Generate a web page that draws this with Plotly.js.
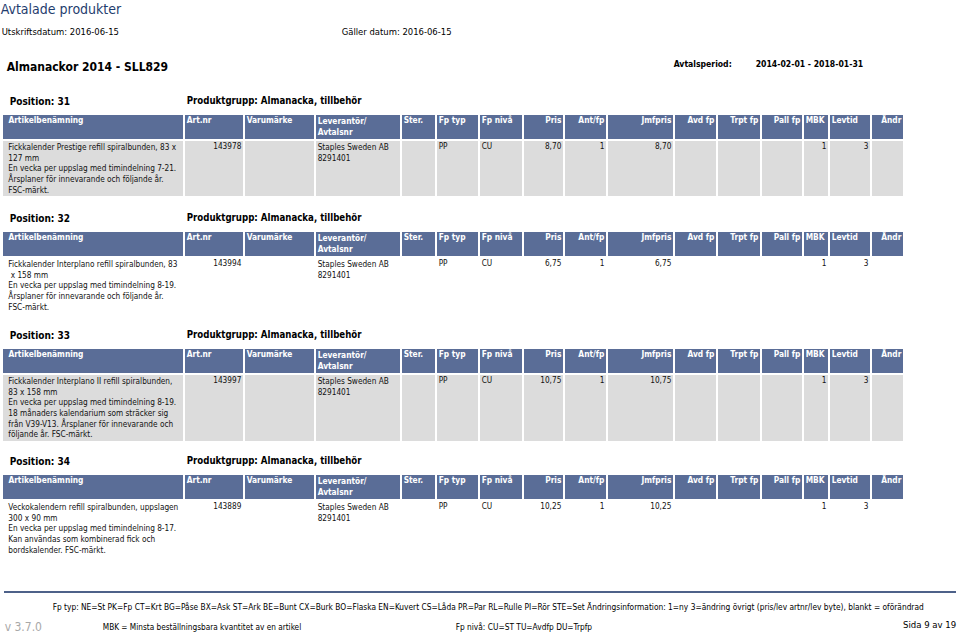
<!DOCTYPE html>
<html>
<head>
<meta charset="utf-8">
<script src="https://cdn.plot.ly/plotly-3.0.1.min.js"></script>
<style>
  html, body { margin: 0; padding: 0; background: #ffffff; overflow: hidden; }
  #frame { width: 960px; height: 633px; overflow: hidden; position: relative; }
  #page { position: absolute; left: 0; top: 0; }
</style>
</head>
<body>
<div id="frame"><div id="page"></div></div>
<script>
const positions = ["31", "32", "33", "34"];
const productGroups = ["Almanacka, tillbehör", "Almanacka, tillbehör", "Almanacka, tillbehör", "Almanacka, tillbehör"];
const descriptions = [
  "Fickkalender Prestige refill spiralbunden, 83 x<br>127 mm<br>En vecka per uppslag med timindelning 7-21.<br>Årsplaner för innevarande och följande år.<br>FSC-märkt.",
  "Fickkalender Interplano refill spiralbunden, 83<br> x 158 mm<br>En vecka per uppslag med timindelning 8-19.<br>Årsplaner för innevarande och följande år.<br>FSC-märkt.",
  "Fickkalender Interplano II refill spiralbunden,<br>83 x 158 mm<br>En vecka per uppslag med timindelning 8-19.<br>18 månaders kalendarium som sträcker sig<br>från V39-V13. Årsplaner för innevarande och<br>följande år. FSC-märkt.",
  "Veckokalendern refill spiralbunden, uppslagen<br>300 x 90 mm<br>En vecka per uppslag med timindelning 8-17.<br>Kan användas som kombinerad fick och<br>bordskalender. FSC-märkt.",
];
const artNr = ["143978", "143994", "143997", "143889"];
const brands = ["", "", "", ""];
const suppliers = ["Staples Sweden AB", "Staples Sweden AB", "Staples Sweden AB", "Staples Sweden AB"];
const contractNr = ["8291401", "8291401", "8291401", "8291401"];
const fpTyp = ["PP", "PP", "PP", "PP"];
const fpNiva = ["CU", "CU", "CU", "CU"];
const prices = [8.70, 6.75, 10.75, 10.25];
const antFp = [1, 1, 1, 1];
const compPrices = [8.70, 6.75, 10.75, 10.25];
const mbk = [1, 1, 1, 1];
const levtid = [3, 3, 3, 3];

const columns = [
  "Artikelbenämning", "Art.nr", "Varumärke", "Leverantör/<br>Avtalsnr", "Ster.", "Fp typ",
  "Fp nivå", "Pris", "Ant/fp", "Jmfpris", "Avd fp", "Trpt fp", "Pall fp", "MBK", "Levtid", "Ändr",
];

const W = 960;
const H = 633;
// drawn at S times the size and scaled down, so the fixed table cell padding stays small
const S = 3;
const FONT = "'DejaVu Sans Condensed', 'Liberation Sans', Arial, sans-serif";
const HEAD = "#5a6d97";
const INDENT = "\u2002"; // first column sits a little further in

const columnWidths = [182, 60, 71, 86, 35, 43, 44, 41, 43, 67, 43, 44, 42, 26, 42, 33];
const headerAlign = ["left", "left", "left", "left", "left", "left", "left", "right",
  "right", "right", "right", "right", "right", "left", "left", "right"];
const cellAlign = ["left", "right", "left", "left", "left", "left", "left", "right",
  "right", "right", "right", "right", "right", "right", "right", "right"];

// page layout, pixels from the top
const blockTops = [114, 231, 348, 474];
const rowHeights = [54, 54, 63, 54];
const rowFills = ["#dcdcdc", "#ffffff", "#dcdcdc", "#ffffff"];

const py = (y) => 1 - y / H;
const px = (x) => x / W;
const money = (v) => v.toFixed(2).replace(".", ",");
const indent = (text) => text.split("<br>").map((line) => INDENT + line).join("<br>");

const headerValues = columns.map((c, k) => (k === 0 ? indent(c) : c));

const traces = positions.map((pos, i) => ({
  type: "table",
  domain: { x: [px(2), px(904)], y: [py(blockTops[i] + 110), py(blockTops[i])] },
  columnwidth: columnWidths,
  header: {
    values: headerValues,
    align: headerAlign,
    height: 24 * S,
    fill: { color: HEAD },
    line: { color: "#ffffff", width: 2 * S },
    font: { family: FONT, size: 8.3 * S, color: "#ffffff", weight: "bold" },
  },
  cells: {
    values: [
      [indent(descriptions[i])], [artNr[i]], [brands[i]], [suppliers[i] + "<br>" + contractNr[i]], [""],
      [fpTyp[i]], [fpNiva[i]], [money(prices[i])], [String(antFp[i])], [money(compPrices[i])],
      [""], [""], [""], [String(mbk[i])], [String(levtid[i])], [""],
    ],
    align: cellAlign,
    height: rowHeights[i] * S,
    fill: { color: rowFills[i] },
    line: { color: "#ffffff", width: 2 * S },
    font: { family: FONT, size: 8.2 * S, color: "#111111" },
  },
}));

function label(text, x, y, opts = {}) {
  return {
    text,
    x: px(x),
    y: py(y),
    xref: "paper",
    yref: "paper",
    xanchor: opts.anchor || "left",
    yanchor: "middle",
    showarrow: false,
    font: {
      family: FONT,
      size: (opts.size || 10) * S,
      color: opts.color || "#000000",
      weight: opts.bold ? "bold" : "normal",
    },
  };
}

const annotations = [
  label("Avtalade produkter", 0, 9, { size: 14, color: "#1f3d6e" }),
  label("Utskriftsdatum: 2016-06-15", 1, 32, { size: 9.4 }),
  label("Gäller datum: 2016-06-15", 341, 32, { size: 9.4 }),
  label("Almanackor 2014 - SLL829", 6, 67, { size: 12, bold: true }),
  label("Avtalsperiod:", 673, 64, { size: 8.6, bold: true }),
  label("2014-02-01 - 2018-01-31", 755, 64, { size: 8.6, bold: true }),
  label("Fp typ: NE=St PK=Fp CT=Krt BG=Påse BX=Ask ST=Ark BE=Bunt CX=Burk BO=Flaska EN=Kuvert CS=Låda PR=Par RL=Rulle PI=Rör STE=Set Ändringsinformation: 1=ny 3=ändring övrigt (pris/lev artnr/lev byte), blankt = oförändrad", 52, 607, { size: 8.3 }),
  label("v 3.7.0", 4, 627, { size: 12, color: "#a8a8a8" }),
  label("MBK = Minsta beställningsbara kvantitet av en artikel", 102, 627, { size: 8.2 }),
  label("Fp nivå: CU=ST TU=Avdfp DU=Trpfp", 455, 627, { size: 8.3 }),
  label("Sida 9 av 19", 957, 625, { size: 9.5, anchor: "right" }),
];

positions.forEach((pos, i) => {
  const y = blockTops[i] - 13;
  annotations.push(label("Position: " + pos, 9, y, { size: 10, bold: true }));
  annotations.push(label("Produktgrupp: " + productGroups[i], 186, y, { size: 9.6, bold: true }));
});

const page = document.getElementById("page");

Plotly.newPlot(page, traces, {
  width: W * S,
  height: H * S,
  margin: { t: 0, r: 0, b: 0, l: 0 },
  paper_bgcolor: "#ffffff",
  plot_bgcolor: "#ffffff",
  showlegend: false,
  annotations,
  shapes: [
    {
      type: "line",
      xref: "paper",
      yref: "paper",
      x0: px(4),
      x1: px(956),
      y0: py(592),
      y1: py(592),
      line: { color: "#4d6189", width: 2 * S },
    },
  ],
}, { displayModeBar: false, staticPlot: true }).then(() => {
  page.style.transformOrigin = "0 0";
  page.style.transform = "scale(" + 1 / S + ")";
});
</script>
</body>
</html>
